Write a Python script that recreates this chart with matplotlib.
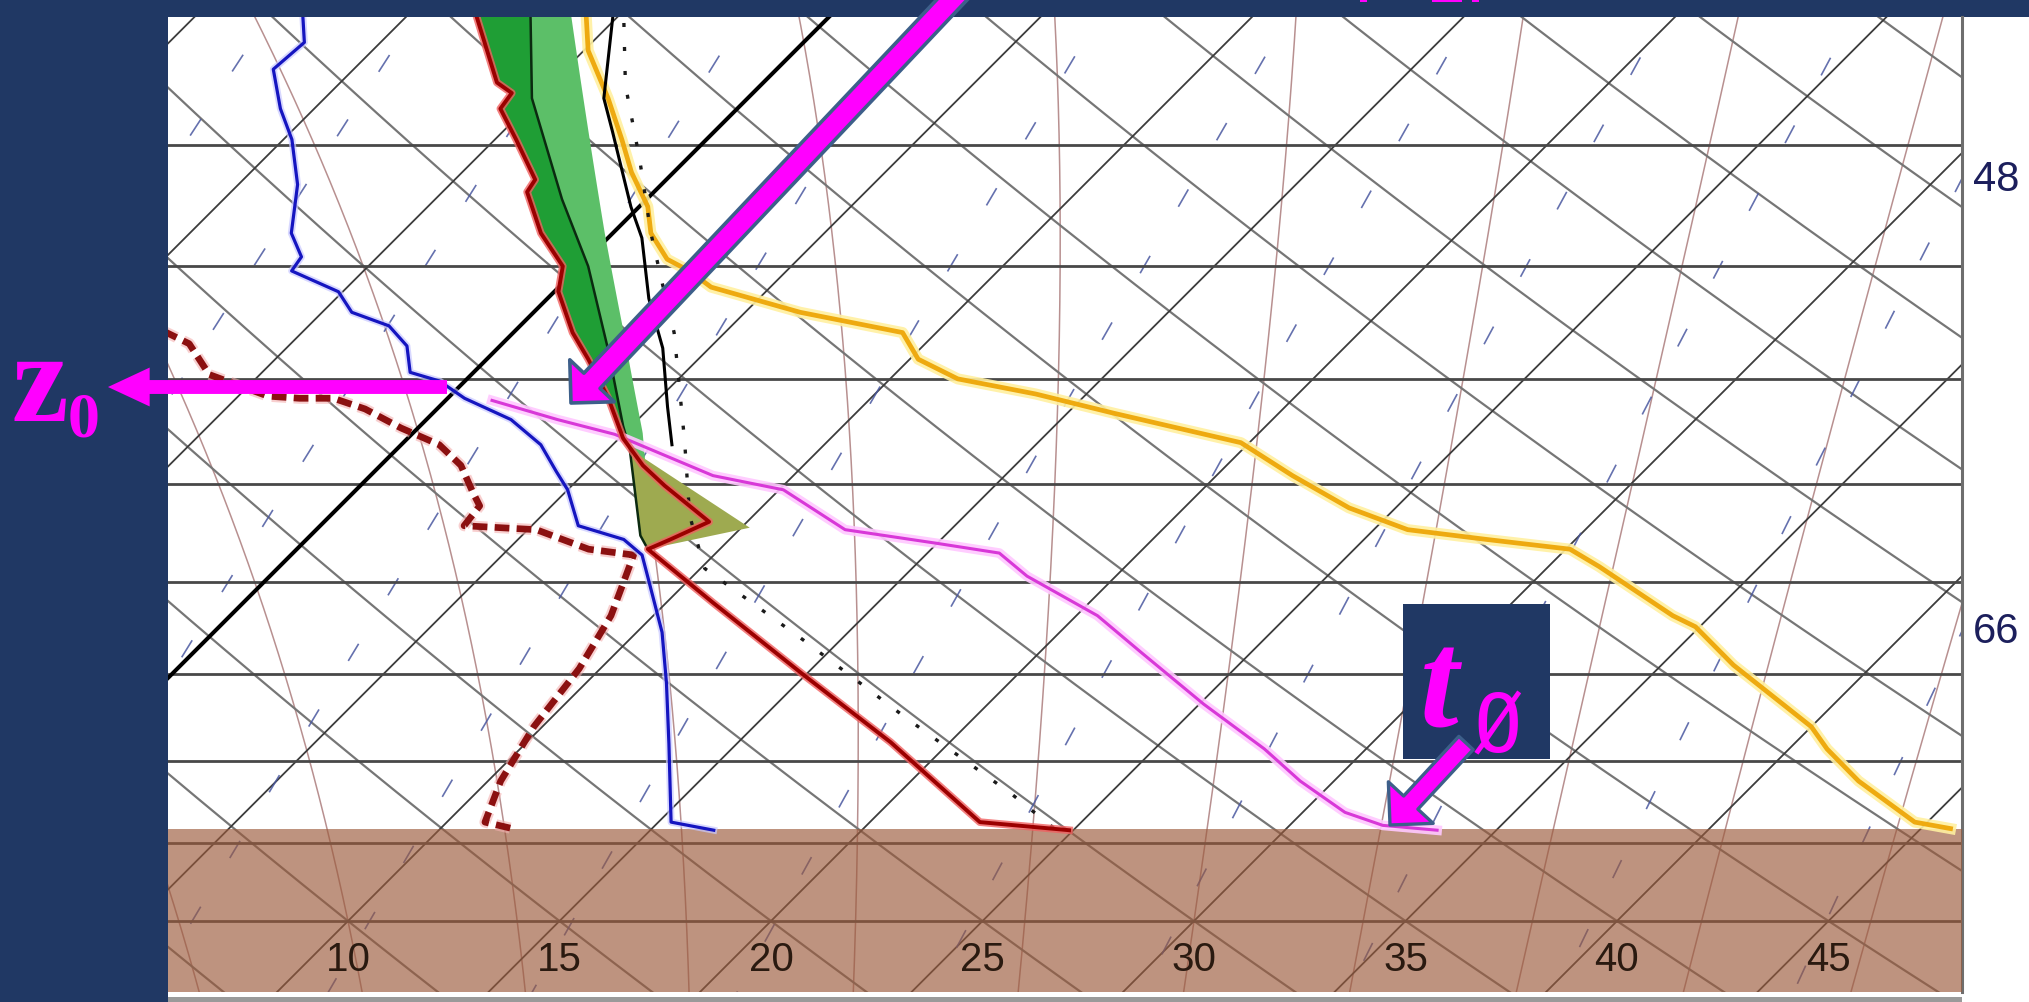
import numpy as np
import matplotlib.pyplot as plt
import matplotlib.patheffects as pe
import matplotlib.transforms as mtrans
from matplotlib import font_manager
from matplotlib.patches import Rectangle, FancyArrowPatch, ArrowStyle

W, H = 2029, 1003
NAVY = '#203864'
MAG = '#ff00ff'
EDGE = '#3d5f8a'
_names = {f.name for f in font_manager.fontManager.ttflist}
NARROW = 'Liberation Sans Narrow' if 'Liberation Sans Narrow' in _names else 'Liberation Sans'

# skew-T geometry (x units = degC at 1000 hPa, y = pressure hPa, log)
K = 35.93
XMIN, XMAX = 5.745, 48.156
PBOT, PTOP = 1047.8, 551.7
P_GROUND = 941.5

# ---- sounding curves (T degC, p hPa) ----
dew_p = [545, 561, 571, 586, 598, 616, 636, 646, 652, 661, 670, 676, 685, 697, 701,
         709, 719, 731, 744, 753, 771, 778, 786, 800, 827, 855, 890, 937, 942]
dew_T = [-12.9, -11.8, -11.9, -10.8, -9.8, -8.6, -7.6, -6.8, -6.7, -5.1, -4.3, -3.1, -2.2, -1.5, -0.6,
         0.4, 2.0, 3.3, 4.3, 5.0, 6.1, 7.5, 8.3, 9.1, 10.6, 11.9, 13.4, 15.3, 16.5]

temp_p = [545, 576, 580, 586, 598, 614, 619, 636, 650, 661, 679, 691, 709, 728, 741,
          751, 769, 778, 783, 811, 851, 889, 937, 942]
temp_T = [-8.9, -6.3, -5.7, -5.6, -4.5, -3.1, -3.0, -1.7, -0.4, 0.1, 1.4, 2.4, 3.8, 5.1, 6.2,
          7.2, 9.1, 8.6, 8.3, 11.1, 15.0, 18.6, 22.6, 24.9]

green_edge_p = [545, 599, 636, 679, 725, 740]
green_edge_T = [-6.6, -2.7, -0.2, 2.6, 5.4, 6.2]

inner_p = [545, 582, 622, 650, 686, 722, 733, 776, 783]
inner_T = [-7.5, -5.1, -2.0, 0.2, 2.6, 4.8, 5.5, 7.8, 8.3]

tri_p = [733, 776, 783, 772]
tri_T = [5.5, 7.8, 8.3, 10.2]

parcel_p = [545, 582, 595, 625, 638, 664, 686, 713, 731]
parcel_T = [-5.5, -3.4, -2.4, -0.2, 0.8, 2.4, 3.9, 5.4, 6.4]

pdot_p = [545, 577, 606, 636, 658, 679, 729, 766, 793, 831, 875, 920, 942]
pdot_T = [-5.3, -3.2, -1.1, 0.9, 2.4, 3.8, 6.6, 8.5, 10.1, 14.1, 18.4, 22.7, 24.6]

dred_p = [677, 679, 684, 698, 708, 709, 709, 714, 723, 731, 741, 754, 761, 771, 773,
          783, 786, 800, 818, 847, 880, 912, 937, 941]
dred_T = [-8.9, -8.2, -7.4, -6.2, -4.3, -3.5, -2.7, -1.7, -0.4, 0.9, 1.9, 2.8, 3.3, 3.4, 5.2,
          6.9, 8.1, 8.5, 9.0, 9.5, 9.8, 10.3, 10.9, 11.7]

mag_p = [710, 719, 726, 746, 753, 773, 780, 785, 797, 818, 838, 867, 893, 912, 931, 939, 942]
mag_T = [1.1, 3.1, 4.8, 8.1, 10.1, 12.5, 15.0, 16.7, 17.9, 20.5, 22.4, 25.1, 27.6, 29.2, 31.0, 32.2, 33.6]

org_p = [545, 564, 582, 598, 611, 625, 636, 647, 652, 659, 670, 679, 691, 700, 707, 716,
         730, 746, 762, 773, 778, 783, 792, 818, 824, 845, 880, 893, 912, 937, 941]
org_T = [-6.2, -4.9, -3.3, -2.0, -1.0, 0.2, 0.9, 1.9, 2.7, 3.6, 6.3, 9.2, 10.2, 11.6, 13.8, 16.1,
         19.8, 21.8, 23.9, 25.8, 27.9, 30.1, 31.2, 34.1, 34.9, 36.7, 40.0, 40.9, 42.4, 44.7, 45.7]

iso_labels = [10, 15, 20, 25, 30, 35, 40, 45]
mix_w = [1.8, 2.5, 3.3, 4.5, 6, 8, 11, 15, 20, 27, 36, 48, 66]
mix_labels = [48, 66]
isobars = [600, 650, 700, 750, 800, 850, 900, 950, 1000]


def skew(T, p):
    return np.asarray(T, float) + K * np.log(1000.0 / np.asarray(p, float))


def td_w(w, p):
    e = w * p / (622.0 + w)
    l = np.log(e / 6.112)
    return 243.5 * l / (17.67 - l)


def moist(tw, ps):
    Rd, Cp, Lv, eps = 287.04, 1005.7, 2.501e6, 0.622

    def rate(T, p):
        es = 6.112 * np.exp(17.67 * (T - 273.15) / (T - 29.65))
        rs = eps * es / (p - es)
        return (Rd * T + Lv * rs) / (Cp + Lv * Lv * rs * eps / (Rd * T * T)) / p
    Ts = [tw + 273.15]
    for i in range(1, len(ps)):
        dp = ps[i] - ps[i - 1]
        T, p = Ts[-1], ps[i - 1]
        k1 = rate(T, p)
        k2 = rate(T + k1 * dp, p + dp)
        Ts.append(T + 0.5 * (k1 + k2) * dp)
    return np.array(Ts) - 273.15


fig = plt.figure(figsize=(W / 100, H / 100), dpi=100, facecolor=NAVY)
fig.add_artist(Rectangle((1962 / W, 0), (W - 1962) / W, 1 - 18 / H, transform=fig.transFigure,
                         fc='white', ec='none', zorder=-2))
fig.add_artist(Rectangle((168 / W, 0), (W - 168) / W, 10 / H, transform=fig.transFigure,
                         fc='white', ec='none', zorder=-2))
fig.add_artist(Rectangle((168 / W, 0), (1962 - 168) / W, 5 / H, transform=fig.transFigure,
                         fc='#9a9a9a', ec='none', zorder=-1))

ax = fig.add_axes([168 / W, 10 / H, (1962 - 168) / W, (993 - 18) / H])
ax.set_facecolor('white')
ax.set_yscale('log')
ax.set_xlim(XMIN, XMAX)
ax.set_ylim(PBOT, PTOP)
ax.set_xticks([])
ax.set_yticks([])
ax.minorticks_off()
for s in ['left', 'top', 'bottom']:
    ax.spines[s].set_visible(False)
ax.spines['right'].set_color('#6e6e6e')
ax.spines['right'].set_linewidth(2.2)

pg = np.geomspace(530, 1070, 300)

# isobars
for p in isobars:
    ax.axhline(p, color='#484848', lw=2.0, zorder=2)

# moist adiabats
p_up = np.linspace(1000, 530, 400)
p_dn = np.linspace(1000, 1070, 60)
for tw in range(2, 50, 4):
    tu = moist(tw, p_up)
    td = moist(tw, p_dn)
    pp = np.concatenate([p_dn[::-1], p_up[1:]])
    tt = np.concatenate([td[::-1], tu[1:]])
    ax.plot(skew(tt, pp), pp, color='#b89090', lw=1.1, zorder=1)

# dry adiabats
for t0 in range(-15, 150, 5):
    th = t0 + 273.15
    T = th * (pg / 1000.0) ** 0.2857 - 273.15
    ax.plot(skew(T, pg), pg, color='#767676', lw=1.6, zorder=1.5)

# isotherms
for t0 in range(-40, 60, 5):
    if t0 == 0:
        ax.plot(skew(t0 + 0 * pg, pg), pg, color='black', lw=2.9, zorder=2.5)
    else:
        ax.plot(skew(t0 + 0 * pg, pg), pg, color='#3c3c3c', lw=1.3, zorder=1.6)

# mixing ratio lines
for w in mix_w:
    ax.plot(skew(td_w(w, pg), pg), pg, color='#4a58a0', lw=1.2, alpha=0.85,
            linestyle=(6, (12, 34)), zorder=1.7)

# ground
ax.axhspan(P_GROUND, PBOT + 20, color=(155 / 255, 90 / 255, 59 / 255), alpha=0.65, lw=0, zorder=3)

# green band between the temperature curve and the parcel curves
pf = np.linspace(545, 740, 160)
x_red = np.interp(pf, temp_p, skew(temp_T, temp_p))
x_edge = np.interp(pf, green_edge_p, skew(green_edge_T, green_edge_p))
x_in = np.interp(pf, inner_p, skew(inner_T, inner_p))
ax.fill_betweenx(pf, x_red, np.maximum(x_red, x_edge), color='#5cbf68', lw=0, zorder=4)
ax.fill_betweenx(pf, x_red, np.maximum(x_red, x_in), color='#1f9e35', lw=0, zorder=4.1)
ax.fill(skew(tri_T, tri_p), tri_p, color='#9eaa50', lw=0, zorder=4)
ax.plot(skew(inner_T, inner_p), inner_p, color='#0b2a10', lw=1.8, zorder=5)

halo = lambda c, w, a=1.0: [pe.Stroke(linewidth=w, foreground=c, alpha=a), pe.Normal()]

ax.plot(skew(org_T, org_p), org_p, color='#eeaa10', lw=3.4, zorder=5.5,
        path_effects=halo('#fff0a0', 8, 0.9))
ax.plot(skew(mag_T, mag_p), mag_p, color='#d838d8', lw=2.2, zorder=5.6,
        path_effects=halo('#ffc8ff', 7, 0.9))
ax.plot(skew(dred_T, dred_p), dred_p, color='#8b1010', lw=4.8, linestyle=(0, (2.2, 1.1)),
        zorder=5.7, path_effects=halo('#f4b0b0', 8, 0.6))
ax.plot(skew(pdot_T, pdot_p), pdot_p, color='#1a1a1a', lw=2.4, linestyle=(0, (1.2, 6)),
        zorder=5.8)
ax.plot(skew(parcel_T, parcel_p), parcel_p, color='black', lw=2.2, zorder=5.8)
ax.plot(skew(dew_T, dew_p), dew_p, color='#1515c0', lw=2.3, zorder=6,
        path_effects=halo('#c8c8ff', 5, 0.7))
ax.plot(skew(temp_T, temp_p), temp_p, color='#9b0000', lw=2.8, zorder=6.1,
        path_effects=halo('#f06060', 5.5, 0.8))

# bottom isotherm labels
for t in iso_labels:
    ax.text(t, 1025, str(t), ha='center', va='center', fontsize=29, color='#2a1a10',
            family=NARROW, zorder=7)

# right mixing-ratio labels
trans = mtrans.blended_transform_factory(fig.transFigure, ax.transData)
pa = np.geomspace(530, 1070, 2000)
for w in mix_labels:
    xw = skew(td_w(w, pa), pa)
    pl = np.interp(XMAX, xw[::-1], pa[::-1])
    fig.text(1973 / W, pl, str(w), transform=trans, ha='left', va='center', fontsize=30,
             color='#1c1f5c', family=NARROW)

# ---- annotations ----
fig.add_artist(FancyArrowPatch((964 / W, 1 + 12 / H), (571 / W, 1 - 404 / H),
                               transform=fig.transFigure, mutation_scale=1,
                               arrowstyle=ArrowStyle.Simple(head_length=22, head_width=44, tail_width=16),
                               fc=MAG, ec=EDGE, lw=2.6, shrinkA=0, shrinkB=0, zorder=10))
fig.add_artist(FancyArrowPatch((447 / W, 1 - 388 / H), (108 / W, 1 - 388 / H),
                               transform=fig.transFigure, mutation_scale=1,
                               arrowstyle=ArrowStyle.Simple(head_length=30, head_width=28, tail_width=10),
                               fc=MAG, ec='none', shrinkA=0, shrinkB=0, zorder=10))
fig.text(12 / W, 1 - 421 / H, 'z', family='Liberation Serif', fontweight='bold', fontsize=92,
         color=MAG, va='baseline', ha='left')
fig.text(68 / W, 1 - 437 / H, '0', family='Liberation Serif', fontweight='bold', fontsize=46,
         color=MAG, va='baseline', ha='left')

fig.add_artist(Rectangle((1403 / W, 1 - 760 / H), 147 / W, 155 / H, transform=fig.transFigure,
                         fc=NAVY, ec='none', zorder=9))
fig.text(1420 / W, 1 - 727 / H, 't', family='Liberation Serif', fontweight='bold', fontstyle='italic',
         fontsize=100, color=MAG, va='baseline', ha='left', zorder=11)
fig.text(1474 / W, 1 - 752 / H, 'Ø', family='DejaVu Sans Mono', fontsize=58, color=MAG,
         va='baseline', ha='left', zorder=11)
fig.add_artist(FancyArrowPatch((1466 / W, 1 - 744 / H), (1390 / W, 1 - 826 / H),
                               transform=fig.transFigure, mutation_scale=1,
                               arrowstyle=ArrowStyle.Simple(head_length=22, head_width=44, tail_width=14),
                               fc=MAG, ec=EDGE, lw=2.4, shrinkA=0, shrinkB=0, zorder=12))

# fragments of the cropped heading at the very top edge
for x0, wd in [(1360, 7), (1432, 30), (1472, 7)]:
    fig.add_artist(Rectangle((x0 / W, 1 - 2.5 / H), wd / W, 2.5 / H, transform=fig.transFigure,
                             fc=MAG, ec='none', zorder=12))

fig.savefig('out.png', dpi=100, facecolor=NAVY)
